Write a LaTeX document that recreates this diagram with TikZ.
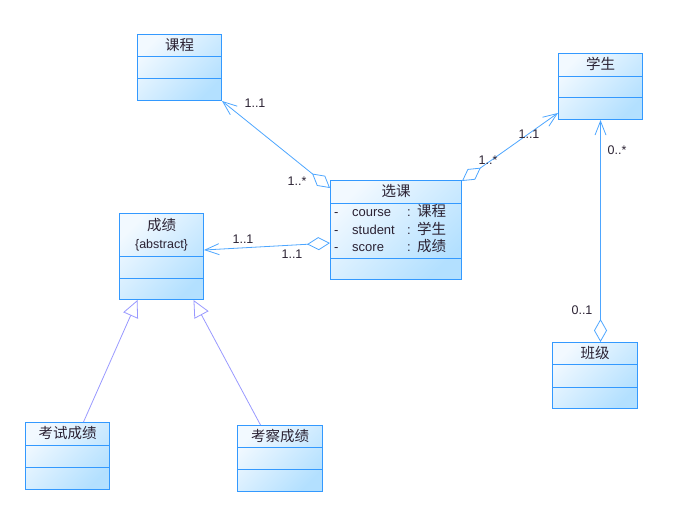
\documentclass[tikz,border=0pt]{standalone}
\usepackage{fontspec}
\setmainfont{Liberation Sans}
\newfontfamily\cjk{Noto Sans CJK SC}
\usetikzlibrary{arrows.meta}
\definecolor{clsborder}{HTML}{3399FF}
\definecolor{clslight}{HTML}{F2F9FF}
\definecolor{clsdark}{HTML}{B3E0FF}
\definecolor{assocline}{HTML}{4DA6FF}
\definecolor{genline}{HTML}{9999FF}
\definecolor{labeltext}{HTML}{2B2233}
\newcommand\zhtype[1]{{\cjk\fontsize{14.5}{17}\selectfont #1}}

\tikzset{
  classbox/.style={draw=clsborder, line width=1pt, rectangle, anchor=north west, inner sep=0pt,
    top color=clslight, bottom color=clsdark, shading angle=45},
  classname/.style={font=\cjk\fontsize{14.5}{16}\selectfont, text=labeltext, inner sep=0pt},
  divider/.style={draw=clsborder, line width=1pt},
  attrs/.style={anchor=north west, inner sep=0pt, font=\fontsize{13}{17}\selectfont, text=labeltext},
  mult/.style={font=\fontsize{12.5}{14}\selectfont, text=labeltext, inner sep=0pt},
  assoc/.style={draw=assocline, line width=0.8pt,
    {Diamond[open,fill=white,length=23pt,width=13pt]}-{Straight Barb[length=14pt,width=11pt]}},
  gen/.style={draw=genline, line width=0.8pt, -{Triangle[open,fill=white,length=17pt,width=16pt]}}
}

\begin{document}
\begin{tikzpicture}[x=1pt,y=-1pt]
\useasboundingbox (0,0) rectangle (692,522);

\node[classbox, minimum width=84pt, minimum height=66pt] (kc) at (137,34) {};
\node[classname] (kc-n) at ([yshift=-11pt]kc.north) {课程};
\draw[divider] ([yshift=-22pt]kc.north west) -- ([yshift=-22pt]kc.north east);
\draw[divider] ([yshift=-44pt]kc.north west) -- ([yshift=-44pt]kc.north east);

\node[classbox, minimum width=84pt, minimum height=66pt] (xs) at (558,53) {};
\node[classname] (xs-n) at ([yshift=-11pt]xs.north) {学生};
\draw[divider] ([yshift=-23pt]xs.north west) -- ([yshift=-23pt]xs.north east);
\draw[divider] ([yshift=-44pt]xs.north west) -- ([yshift=-44pt]xs.north east);

\node[classbox, minimum width=131pt, minimum height=99pt] (xk) at (330,180) {};
\node[classname] (xk-n) at ([yshift=-11.5pt]xk.north) {选课};
\draw[divider] ([yshift=-23pt]xk.north west) -- ([yshift=-23pt]xk.north east);
\draw[divider] ([yshift=-78pt]xk.north west) -- ([yshift=-78pt]xk.north east);
\node[attrs] (xk-a) at (334,204.5) {\begin{tabular}{@{}p{18pt}@{}p{55pt}@{}p{10pt}@{}l@{}}
- & course & : & \zhtype{课程}\\
- & student & : & \zhtype{学生}\\
- & score & : & \zhtype{成绩}
\end{tabular}};

\node[classbox, minimum width=84pt, minimum height=86pt] (cj) at (119,213) {};
\node[classname] (cj-n) at ([yshift=-12pt]cj.north) {成绩};
\node[mult] (cj-abs) at ([yshift=-32pt]cj.north) {\{abstract\}};
\draw[divider] ([yshift=-43pt]cj.north west) -- ([yshift=-43pt]cj.north east);
\draw[divider] ([yshift=-65pt]cj.north west) -- ([yshift=-65pt]cj.north east);

\node[classbox, minimum width=85pt, minimum height=66pt] (bj) at (552,342) {};
\node[classname] (bj-n) at ([yshift=-11pt]bj.north) {班级};
\draw[divider] ([yshift=-22pt]bj.north west) -- ([yshift=-22pt]bj.north east);
\draw[divider] ([yshift=-45pt]bj.north west) -- ([yshift=-45pt]bj.north east);

\node[classbox, minimum width=84pt, minimum height=67pt] (ks) at (25,422) {};
\node[classname] (ks-n) at ([yshift=-11pt]ks.north) {考试成绩};
\draw[divider] ([yshift=-23pt]ks.north west) -- ([yshift=-23pt]ks.north east);
\draw[divider] ([yshift=-45pt]ks.north west) -- ([yshift=-45pt]ks.north east);

\node[classbox, minimum width=85pt, minimum height=66pt] (kcj) at (237,425) {};
\node[classname] (kcj-n) at ([yshift=-11pt]kcj.north) {考察成绩};
\draw[divider] ([yshift=-22pt]kcj.north west) -- ([yshift=-22pt]kcj.north east);
\draw[divider] ([yshift=-44pt]kcj.north west) -- ([yshift=-44pt]kcj.north east);

\draw[assoc] ([yshift=-8pt]xk.north west) -- (kc.south east);
\draw[assoc] ([yshift=-1pt]xk.north east) -- ([yshift=7pt]xs.south west);
\draw[assoc] ([yshift=-63pt]xk.north west) -- ([yshift=-37pt]cj.north east);
\draw[assoc] ([xshift=5.5pt]bj.north) -- (xs.south);
\draw[gen] ([xshift=16pt]ks.north) -- ([xshift=-24pt]cj.south);
\draw[gen] ([xshift=-19.5pt]kcj.north) -- ([xshift=32pt]cj.south);

\node[mult] (m-kc) at (255,103) {1..1};
\node[mult] (m-xk1) at (297,181) {1..*};
\node[mult] (m-xk2) at (488,160) {1..*};
\node[mult] (m-xs1) at (529,134) {1..1};
\node[mult] (m-xs2) at (617,150) {0..*};
\node[mult] (m-bj) at (582,310) {0..1};
\node[mult] (m-cj) at (243,239) {1..1};
\node[mult] (m-xk3) at (292,254) {1..1};
\end{tikzpicture}
\end{document}
